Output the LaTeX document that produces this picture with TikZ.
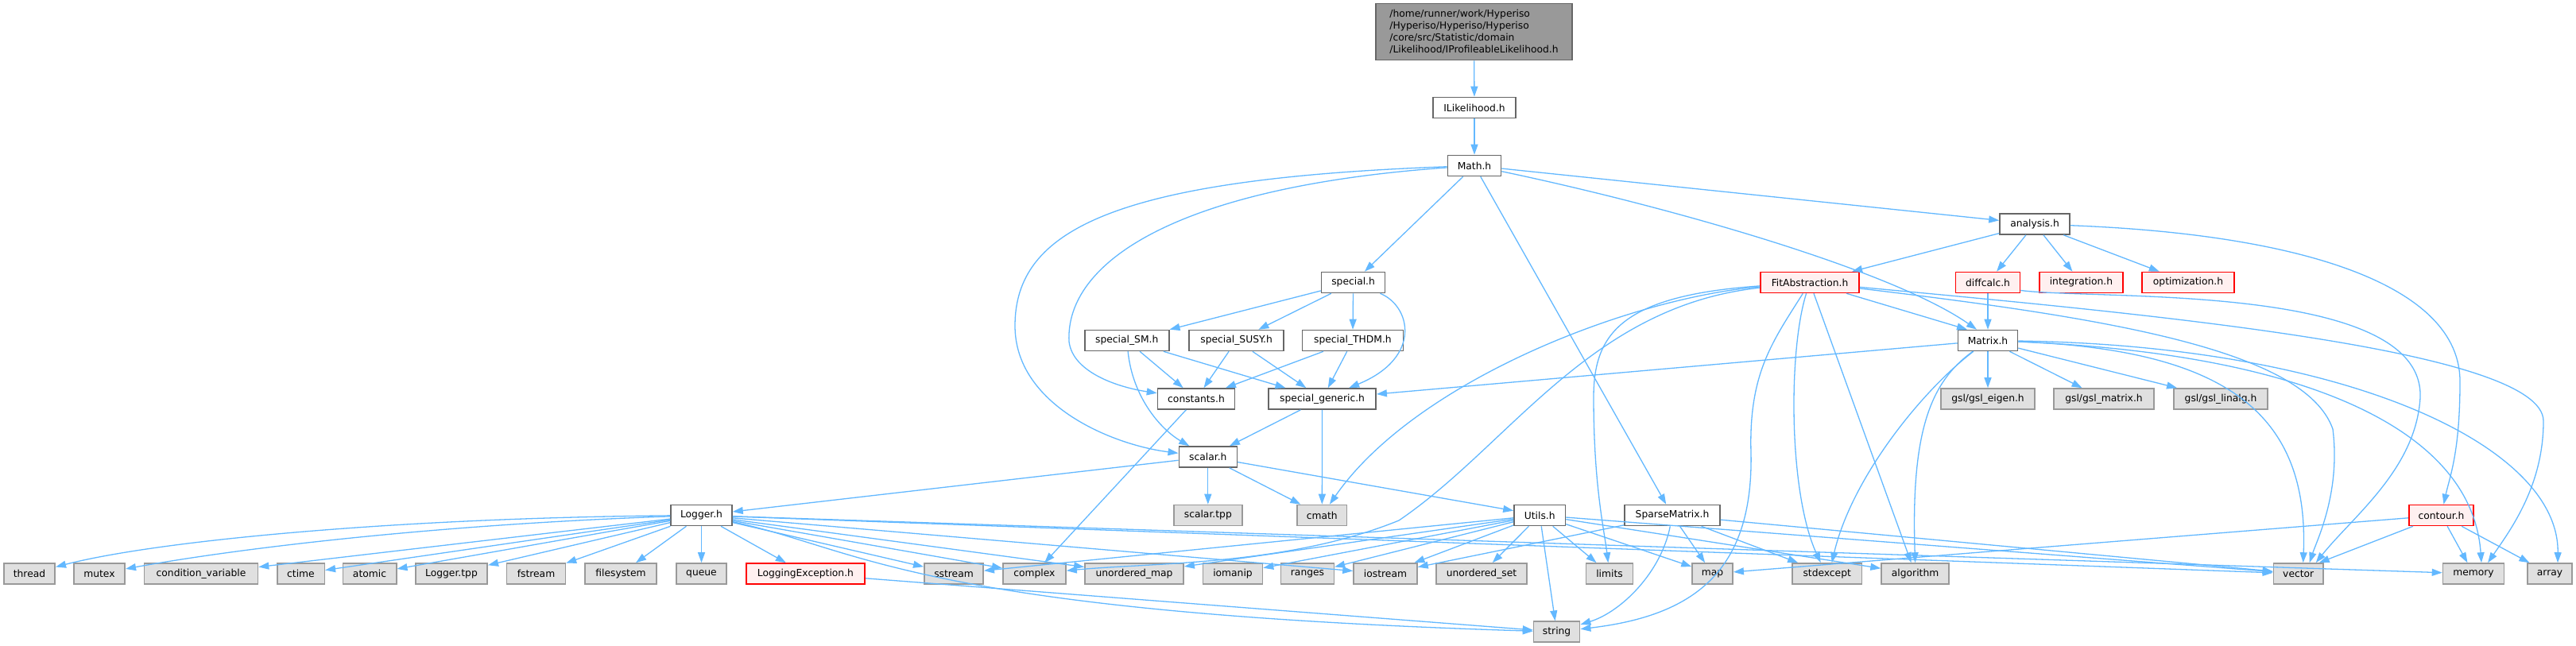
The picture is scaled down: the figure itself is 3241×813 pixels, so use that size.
\documentclass[tikz,border=0pt]{standalone}
\usepackage{fontspec}
\setmainfont{DejaVu Sans}
\usetikzlibrary{arrows.meta}
\definecolor{edgec}{HTML}{63B8FF}
\definecolor{gborder}{HTML}{999999}
\definecolor{gfill}{HTML}{E0E0E0}
\definecolor{wborder}{HTML}{666666}
\definecolor{rborder}{HTML}{FF0000}
\definecolor{rfill}{HTML}{FFF0F0}
\definecolor{mainfill}{HTML}{999999}
\begin{document}
\begin{tikzpicture}[x=1pt,y=-1pt,
  box/.style={rectangle, inner sep=0pt, minimum height=26pt, line width=1.6pt,
    font=\fontsize{12.3}{14.8}\selectfont, text=black},
  wnode/.style={box, draw=wborder, fill=white},
  gnode/.style={box, draw=gborder, fill=gfill},
  rnode/.style={box, draw=rborder, fill=rfill},
  mainnode/.style={box, draw=wborder, fill=mainfill, align=left, minimum height=71pt},
  dep/.style={draw=edgec, line width=1.3pt, -{Triangle[length=13pt,width=9pt]}},
]
\path[use as bounding box] (0,0) rectangle (3241,813);

% nodes
\node[mainnode, minimum width=247pt] (main) at (1854.5,40) {/home/runner/work/Hyperiso\\/Hyperiso/Hyperiso/Hyperiso\\/core/src/Statistic/domain\\/Likelihood/IProfileableLikelihood.h};
\node[wnode, minimum width=104pt] (ilik) at (1855,135.5) {ILikelihood.h};
\node[wnode, minimum width=67pt] (math) at (1855,208.5) {Math.h};
\node[wnode, minimum width=88pt] (analysis) at (2560,282) {analysis.h};
\node[wnode, minimum width=80pt] (special) at (1702.6,355.5) {special.h};
\node[rnode, minimum width=124pt] (fit) at (2277,355.5) {FitAbstraction.h};
\node[rnode, minimum width=81pt] (diffcalc) at (2501,355.5) {diffcalc.h};
\node[rnode, minimum width=105pt] (integ) at (2618.4,355.5) {integration.h};
\node[rnode, minimum width=116pt] (optim) at (2753,355.5) {optimization.h};
\node[wnode, minimum width=106pt] (sm) at (1417.7,428.5) {special\_SM.h};
\node[wnode, minimum width=119pt] (susy) at (1555.6,428.5) {special\_SUSY.h};
\node[wnode, minimum width=127pt] (thdm) at (1701.9,428.5) {special\_THDM.h};
\node[wnode, minimum width=75pt] (matrix) at (2501,428.5) {Matrix.h};
\node[wnode, minimum width=97pt] (constants) at (1505,502) {constants.h};
\node[wnode, minimum width=135pt] (sgen) at (1663.6,502) {special\_generic.h};
\node[gnode, minimum width=118.5pt] (eigen) at (2501,502) {gsl/gsl\_eigen.h};
\node[gnode, minimum width=126pt] (gmat) at (2647,502) {gsl/gsl\_matrix.h};
\node[gnode, minimum width=118.5pt] (linalg) at (2794,502) {gsl/gsl\_linalg.h};
\node[wnode, minimum width=73pt] (scalar) at (1519.8,575) {scalar.h};
\node[wnode, minimum width=77pt] (logger) at (882.5,648.5) {Logger.h};
\node[gnode, minimum width=86pt] (stpp) at (1519.8,648.5) {scalar.tpp};
\node[gnode, minimum width=62.5pt] (cmath) at (1663.3,648.5) {cmath};
\node[wnode, minimum width=64.5pt] (utils) at (1937.2,648.5) {Utils.h};
\node[wnode, minimum width=120pt] (sparse) at (2104,648.5) {SparseMatrix.h};
\node[rnode, minimum width=81.5pt] (contour) at (3071.5,648.5) {contour.h};
\node[gnode, minimum width=64.5pt] (thread) at (37,722) {thread};
\node[gnode, minimum width=64.5pt] (mutex) at (125,722) {mutex};
\node[gnode, minimum width=143pt] (condvar) at (253,722) {condition\_variable};
\node[gnode, minimum width=59.6pt] (ctime) at (378.5,722) {ctime};
\node[gnode, minimum width=67.4pt] (atomic) at (465,722) {atomic};
\node[gnode, minimum width=90.5pt] (ltpp) at (568,722) {Logger.tpp};
\node[gnode, minimum width=73.7pt] (fstream) at (674.5,722) {fstream};
\node[gnode, minimum width=90.5pt] (filesys) at (781,722) {filesystem};
\node[gnode, minimum width=63pt] (queue) at (882.5,722) {queue};
\node[rnode, minimum width=149.4pt] (logexc) at (1013.4,722) {LoggingException.h};
\node[gnode, minimum width=74.4pt] (sstream) at (1200,722) {sstream};
\node[gnode, minimum width=79.3pt] (complex) at (1301.4,722) {complex};
\node[gnode, minimum width=124.2pt] (umap) at (1427,722) {unordered\_map};
\node[gnode, minimum width=75pt] (iomanip) at (1551,722) {iomanip};
\node[gnode, minimum width=66.7pt] (ranges) at (1645,722) {ranges};
\node[gnode, minimum width=80pt] (iostream) at (1743,722) {iostream};
\node[gnode, minimum width=114.3pt] (uset) at (1864,722) {unordered\_set};
\node[gnode, minimum width=59pt] (limits) at (2025,722) {limits};
\node[gnode, minimum width=51pt] (map) at (2154.6,722) {map};
\node[gnode, minimum width=87.3pt] (stdexc) at (2298.7,722) {stdexcept};
\node[gnode, minimum width=85pt] (algo) at (2409.6,722) {algorithm};
\node[gnode, minimum width=62.6pt] (vector) at (2891.7,722) {vector};
\node[gnode, minimum width=77pt] (memory) at (3112,722) {memory};
\node[gnode, minimum width=56pt] (array) at (3208,722) {array};
\node[gnode, minimum width=58pt] (string) at (1958.6,795.2) {string};

% edges
\draw[dep] (main) -- (ilik);
\draw[dep] (ilik) -- (math);
\draw[dep] (math) -- (special);
\draw[dep] (math) .. controls (1480,235) and (1340,330) .. (1345,430) .. controls (1350,470) and (1410,488) .. (constants);
\draw[dep] (math) .. controls (1400,225) and (1277,290) .. (1277,410) .. controls (1277,510) and (1400,560) .. (scalar);
\draw[dep] (math) -- (sparse);
\draw[dep] (math) -- (analysis);
\draw[dep] (math) .. controls (2100,260) and (2380,340) .. ([xshift=-14pt]matrix.north);

\draw[dep] (special) -- (sm);
\draw[dep] (special) -- (susy);
\draw[dep] (special) -- (thdm);
\draw[dep] (special) .. controls (1775,385) and (1790,450) .. (sgen);

\draw[dep] (sm) -- (constants);
\draw[dep] (sm) -- (sgen);
\draw[dep] (sm) .. controls (1425,500) and (1460,540) .. (scalar);
\draw[dep] (susy) -- (constants);
\draw[dep] (susy) -- (sgen);
\draw[dep] (thdm) -- (constants);
\draw[dep] (thdm) -- (sgen);
\draw[dep] (constants) -- (complex);
\draw[dep] (sgen) -- (scalar);
\draw[dep] (sgen) -- (cmath);

\draw[dep] (scalar) -- (logger);
\draw[dep] (scalar) -- (stpp);
\draw[dep] (scalar) -- (cmath);
\draw[dep] (scalar) -- (utils);

\draw[dep] (analysis) -- (fit);
\draw[dep] (analysis) -- (diffcalc);
\draw[dep] (analysis) -- (integ);
\draw[dep] (analysis) -- (optim);
\draw[dep] (analysis) .. controls (2900,295) and (3095,360) .. (3095,480) .. controls (3095,570) and (3082,600) .. (contour);

\draw[dep] (diffcalc) -- (matrix);
\draw[dep] ([yshift=-10pt]diffcalc.east) .. controls (2640,378) and (3050,355) .. (3045,500) .. controls (3040,590) and (2960,650) .. ([xshift=22pt]vector.north);

\draw[dep] (fit) -- ([xshift=-26pt]matrix.north);
\draw[dep] (fit) .. controls (2050,375) and (1780,480) .. (cmath);
\draw[dep] (fit) .. controls (2000,385) and (1900,560) .. (1760,655) .. controls (1620,712) and (1450,708) .. (complex);
\draw[dep] (fit) .. controls (2040,372) and (2005,420) .. (2005,500) .. controls (2005,610) and (2018,665) .. (limits);
\draw[dep] (fit) .. controls (2230,430) and (2200,470) .. (2203,570) .. controls (2206,720) and (2130,775) .. (string);
\draw[dep] (fit) .. controls (2250,440) and (2250,620) .. ([xshift=-8pt]stdexc.north);
\draw[dep] (fit) -- (algo);
\draw[dep] (fit) .. controls (2650,400) and (2900,440) .. (2935,540) .. controls (2945,620) and (2915,680) .. ([xshift=14pt]vector.north);
\draw[dep] (fit) .. controls (2700,395) and (3200,440) .. (3200,530) .. controls (3200,610) and (3160,665) .. ([xshift=18pt]memory.north);

\draw[dep] (matrix) -- (sgen);
\draw[dep] (matrix) -- (eigen);
\draw[dep] (matrix) -- (gmat);
\draw[dep] (matrix) -- (linalg);
\draw[dep] (matrix) .. controls (2420,490) and (2330,600) .. ([xshift=6pt]stdexc.north);
\draw[dep] (matrix) .. controls (2430,480) and (2404,540) .. (algo.north);
\draw[dep] (matrix) .. controls (2800,440) and (2905,520) .. ([xshift=6pt]vector.north);
\draw[dep] (matrix) .. controls (2900,445) and (3110,540) .. ([xshift=10pt]memory.north);
\draw[dep] (matrix) .. controls (2950,435) and (3220,560) .. ([xshift=10pt]array.north);

\draw[dep] (sparse) -- (map);
\draw[dep] (sparse) -- (stdexc);
\draw[dep] (sparse) -- (iostream);
\draw[dep] (sparse) .. controls (2090,720) and (2040,770) .. (string);
\draw[dep] (sparse) -- (vector);

\draw[dep] (utils) -- (sstream);
\draw[dep] (utils) -- (umap);
\draw[dep] (utils) -- (iomanip);
\draw[dep] (utils) -- (ranges);
\draw[dep] (utils) -- (iostream);
\draw[dep] (utils) -- (uset);
\draw[dep] (utils) -- (limits);
\draw[dep] (utils) -- (string);
\draw[dep] (utils) -- (map);
\draw[dep] (utils) -- (algo);
\draw[dep] (utils) -- (vector);

\draw[dep] (logger) .. controls (500,652) and (200,680) .. (thread);
\draw[dep] (logger) .. controls (550,660) and (300,690) .. (mutex);
\draw[dep] (logger) -- (condvar);
\draw[dep] (logger) -- (ctime);
\draw[dep] (logger) -- (atomic);
\draw[dep] (logger) -- (ltpp);
\draw[dep] (logger) -- (fstream);
\draw[dep] (logger) -- (filesys);
\draw[dep] (logger) -- (queue);
\draw[dep] (logger) -- (logexc);
\draw[dep] (logger) -- (sstream);
\draw[dep] (logger) -- (complex);
\draw[dep] (logger) -- (umap);
\draw[dep] (logger) -- (iostream);
\draw[dep] (logger) .. controls (1080,690) and (1150,770) .. (string);
\draw[dep] (logger) -- (vector);
\draw[dep] (logger) -- (memory);
\draw[dep] (logexc) -- (string);

\draw[dep] (contour) -- (map);
\draw[dep] (contour) -- ([xshift=26pt]vector.north);
\draw[dep] (contour) -- (memory);
\draw[dep] (contour) -- (array);
\end{tikzpicture}
\end{document}
